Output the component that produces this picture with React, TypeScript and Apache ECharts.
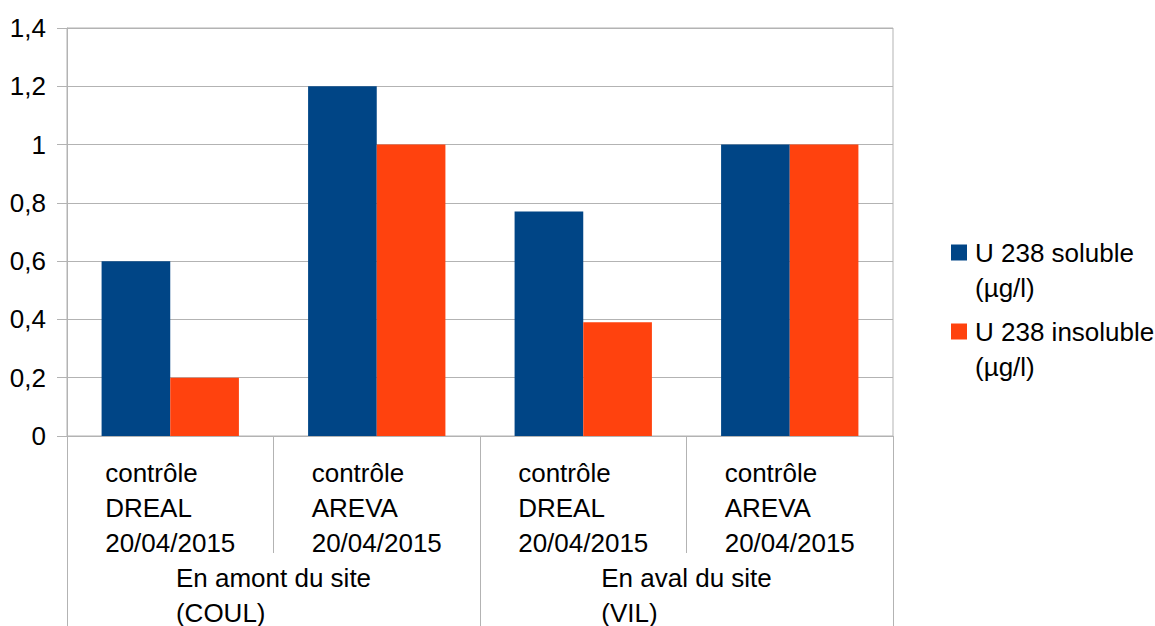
import React, { useEffect, useRef } from 'react';
import * as echarts from 'echarts';

const categories = [
  'contrôle\nDREAL\n20/04/2015',
  'contrôle\nAREVA\n20/04/2015',
  'contrôle\nDREAL\n20/04/2015',
  'contrôle\nAREVA\n20/04/2015',
];
const groups = ['En amont du site\n(COUL)', 'En aval du site\n(VIL)'];
const seriesNames = ['U 238 soluble\n(µg/l)', 'U 238 insoluble\n(µg/l)'];
const solubleValues = [0.6, 1.2, 0.77, 1.0];
const insolubleValues = [0.2, 1.0, 0.39, 1.0];
const yMin = 0;
const yMax = 1.4;
const yInterval = 0.2;

const FONT = '"Liberation Sans", Arial, sans-serif';
const GRAY = '#b3b3b3';

const leftLines = (v: string) =>
  v
    .split('\n')
    .map((l) => `{a|${l}}`)
    .join('\n');

export default function App() {
  const ref = useRef<HTMLDivElement>(null);
  useEffect(() => {
    if (!ref.current) return;
    const chart = echarts.init(ref.current, null, { renderer: 'svg' });
    const richA = { a: { align: 'left', fontSize: 26, lineHeight: 35, color: '#000', fontFamily: FONT } };
    chart.setOption({
      animation: false,
      textStyle: { fontFamily: FONT },
      grid: {
        left: 67,
        right: 262,
        top: 28,
        bottom: 190,
        show: true,
        borderColor: GRAY,
        borderWidth: 1,
        containLabel: false,
      },
      legend: {
        orient: 'vertical',
        left: 951,
        top: 200,
        padding: 0,
        itemWidth: 16,
        itemHeight: 16,
        itemGap: -26,
        icon: 'rect',
        data: seriesNames,
        formatter: (name: string) => '\n' + name,
        textStyle: {
          fontSize: 26,
          lineHeight: 35,
          color: '#000',
          fontFamily: FONT,
          padding: [0, 0, 0, 3],
        },
      },
      xAxis: [
        {
          type: 'category',
          data: categories,
          position: 'bottom',
          boundaryGap: true,
          axisLine: { show: true, lineStyle: { color: GRAY, width: 1 } },
          axisTick: { show: true, length: 117, interval: 0, lineStyle: { color: GRAY, width: 1 } },
          axisLabel: {
            interval: 0,
            margin: 19,
            formatter: leftLines,
            rich: richA,
          },
          splitLine: { show: false },
        },
        {
          type: 'category',
          data: groups,
          position: 'bottom',
          boundaryGap: true,
          axisLine: { show: false },
          axisTick: { show: true, length: 192, interval: 0, lineStyle: { color: GRAY, width: 1 } },
          axisLabel: {
            interval: 0,
            margin: 124,
            formatter: leftLines,
            rich: richA,
          },
          splitLine: { show: false },
        },
      ],
      yAxis: {
        type: 'value',
        min: yMin,
        max: yMax,
        interval: yInterval,
        axisLine: { show: true, lineStyle: { color: GRAY, width: 1 } },
        axisTick: { show: true, length: 10, lineStyle: { color: GRAY, width: 1 } },
        splitLine: { show: true, lineStyle: { color: GRAY, width: 1 } },
        axisLabel: {
          margin: 21,
          fontSize: 26,
          color: '#000',
          fontFamily: FONT,
          formatter: (v: number) => String(Math.round(v * 10) / 10).replace('.', ','),
        },
      },
      series: [
        {
          name: seriesNames[0],
          type: 'bar',
          xAxisIndex: 0,
          data: solubleValues,
          barGap: '0%',
          barCategoryGap: '33.5%',
          itemStyle: { color: '#004586' },
        },
        {
          name: seriesNames[1],
          type: 'bar',
          xAxisIndex: 0,
          data: insolubleValues,
          barGap: '0%',
          barCategoryGap: '33.5%',
          itemStyle: { color: '#ff420e' },
        },
      ],
    });
    return () => chart.dispose();
  }, []);
  return (
    <div
      ref={ref}
      style={{ position: 'absolute', left: 0, top: 0, width: 1155, height: 626, background: '#fff' }}
    />
  );
}
